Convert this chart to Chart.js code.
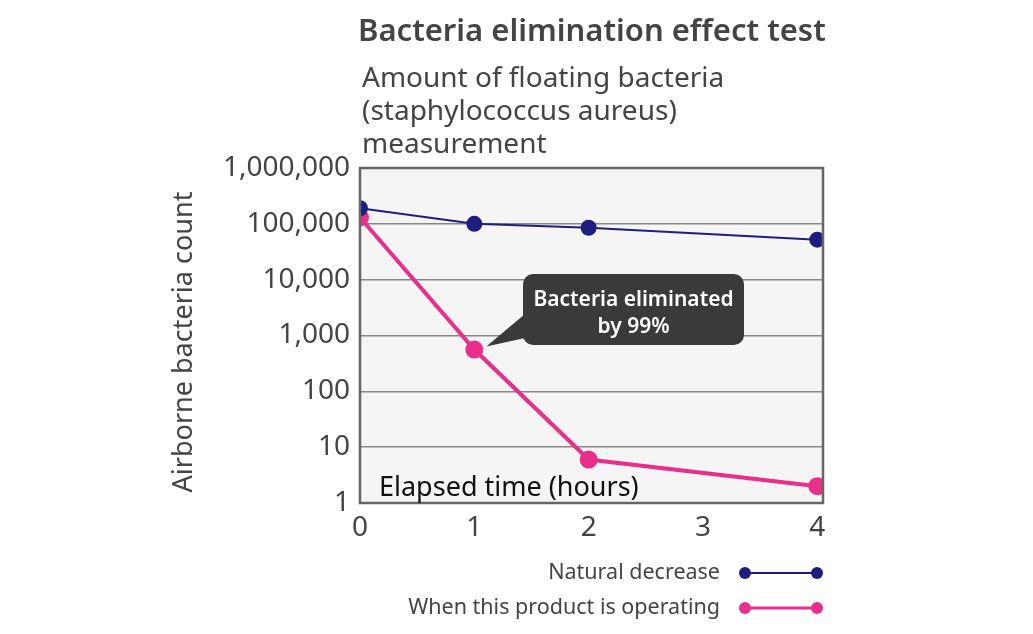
<!DOCTYPE html>
<html>
<head>
<meta charset="utf-8">
<script src="https://cdn.jsdelivr.net/npm/chart.js@4.4.0/dist/chart.umd.min.js"></script>
<style>
  body { margin: 0; background: #fff; }
  #wrap { position: relative; width: 1033px; height: 634px; }
</style>
</head>
<body>
<div id="wrap"><canvas id="grafico" width="1033" height="634"></canvas></div>
<script>
// datos
const horas = [0, 1, 2, 4];
const natural = [190000, 100000, 85000, 52000];
const producto = [130000, 560, 6, 2];
const ticksY = [1, 10, 100, 1000, 10000, 100000, 1000000];
const ticksX = [0, 1, 2, 3, 4];

const FONT = "'Noto Sans', 'Open Sans', sans-serif";
const AZUL = '#1e1e82';
const ROSA = '#e8308a';

const extras = {
    id: 'extras',
    beforeDraw(chart) {
        const { ctx, chartArea: a } = chart;
        ctx.save();
        ctx.fillStyle = '#f5f5f5';
        ctx.fillRect(a.left, a.top, a.right - a.left, a.bottom - a.top);
        ctx.restore();
    },
    afterDraw(chart) {
        const { ctx, chartArea: a } = chart;
        ctx.save();
        // borde
        ctx.strokeStyle = '#666';
        ctx.lineWidth = 2.5;
        ctx.strokeRect(a.left, a.top, a.right - a.left, a.bottom - a.top);

        // titulos
        ctx.fillStyle = '#444';
        ctx.textBaseline = 'alphabetic';
        ctx.textAlign = 'left';
        ctx.font = `600 31px ${FONT}`;
        ctx.fillText('Bacteria elimination effect test', 358, 41);
        ctx.font = `28px ${FONT}`;
        ctx.fillText('Amount of floating bacteria', 362, 87);
        ctx.fillText('(staphylococcus aureus)', 362, 120);
        ctx.fillText('measurement', 362, 153);

        // titulo eje y
        ctx.save();
        ctx.translate(192, 342);
        ctx.rotate(-Math.PI / 2);
        ctx.textAlign = 'center';
        ctx.font = `27px ${FONT}`;
        ctx.fillText('Airborne bacteria count', 0, 0);
        ctx.restore();

        // etiqueta eje x
        ctx.fillStyle = '#111';
        ctx.font = `27px ${FONT}`;
        ctx.fillText('Elapsed time (hours)', 379, 496);

        // globo
        const x = chart.scales.x, y = chart.scales.y;
        const px = x.getPixelForValue(horas[1]) + 12, py = y.getPixelForValue(producto[1]) - 3;
        const bx = 523, by = 274, bw = 221, bh = 71, r = 10;
        ctx.fillStyle = '#3a3a3a';
        ctx.beginPath();
        ctx.roundRect(bx, by, bw, bh, r);
        ctx.fill();
        ctx.beginPath();
        ctx.moveTo(bx + 2, by + 40);
        ctx.lineTo(px, py);
        ctx.lineTo(bx + 2, by + 64);
        ctx.closePath();
        ctx.fill();
        ctx.fillStyle = '#fff';
        ctx.textAlign = 'center';
        ctx.font = `600 21px ${FONT}`;
        ctx.fillText('Bacteria eliminated', bx + bw / 2, by + 32);
        ctx.fillText('by 99%', bx + bw / 2, by + 59);

        // leyenda
        const items = [['Natural decrease', AZUL, 573, 2], ['When this product is operating', ROSA, 608, 3]];
        items.forEach(([txt, col, ly, lw]) => {
            ctx.fillStyle = '#444';
            ctx.textAlign = 'right';
            ctx.textBaseline = 'middle';
            ctx.font = `21.5px ${FONT}`;
            ctx.fillText(txt, 720, ly);
            ctx.strokeStyle = col;
            ctx.lineWidth = lw;
            ctx.beginPath();
            ctx.moveTo(745, ly);
            ctx.lineTo(817, ly);
            ctx.stroke();
            ctx.fillStyle = col;
            [745, 817].forEach(cx => {
                ctx.beginPath();
                ctx.arc(cx, ly, 6, 0, Math.PI * 2);
                ctx.fill();
            });
        });
        ctx.restore();
    }
};

new Chart(document.getElementById('grafico'), {
    type: 'line',
    data: {
        datasets: [{
            label: 'Natural decrease',
            data: horas.map((h, i) => ({ x: h, y: natural[i] })),
            borderColor: AZUL,
            backgroundColor: AZUL,
            borderWidth: 2,
            pointRadius: 7,
            pointHoverRadius: 7
        }, {
            label: 'When this product is operating',
            data: horas.map((h, i) => ({ x: h, y: producto[i] })),
            borderColor: ROSA,
            backgroundColor: ROSA,
            borderWidth: 4,
            pointRadius: 7,
            pointHoverRadius: 7
        }]
    },
    options: {
        responsive: false,
        animation: false,
        layout: { padding: { top: 168, right: 210, bottom: 0, left: 0 } },
        plugins: { legend: { display: false }, tooltip: { enabled: false } },
        scales: {
            x: {
                type: 'linear',
                min: 0,
                max: 4.05,
                afterBuildTicks: s => { s.ticks = ticksX.map(v => ({ value: v })); },
                afterFit: s => { s.height = 131; },
                grid: { display: false },
                border: { display: false },
                ticks: { color: '#444', font: { family: FONT, size: 28 }, padding: 0 }
            },
            y: {
                type: 'logarithmic',
                min: 1,
                max: 1000000,
                afterBuildTicks: s => { s.ticks = ticksY.map(v => ({ value: v })); },
                afterFit: s => { s.width = 360; },
                grid: { color: '#888', lineWidth: 1.5, drawTicks: false },
                border: { display: false },
                ticks: {
                    color: '#444',
                    font: { family: FONT, size: 28 },
                    padding: 10,
                    callback: v => v.toLocaleString('en-US')
                }
            }
        }
    },
    plugins: [extras]
});
</script>
</body>
</html>
